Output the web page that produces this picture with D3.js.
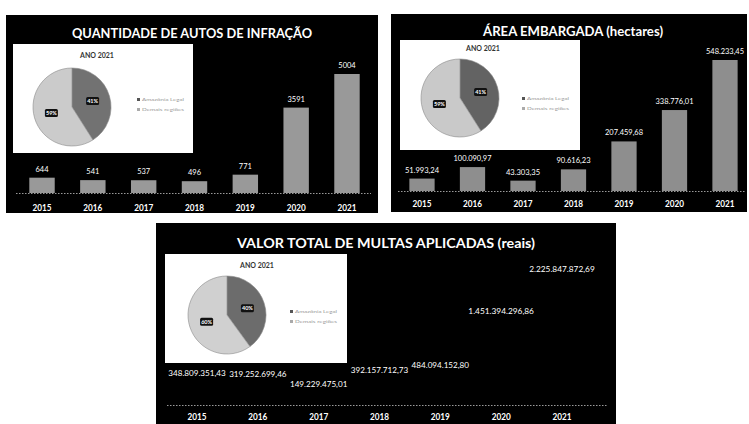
<!DOCTYPE html>
<html><head><meta charset="utf-8">
<script src="https://cdn.jsdelivr.net/npm/d3@7"></script>
<style>html,body{margin:0;padding:0;background:#fff;}svg{display:block;}</style>
</head><body>
<svg id="c" width="749" height="424"></svg>
<script>
// ---- data ----
const years = ["2015", "2016", "2017", "2018", "2019", "2020", "2021"];
const autosValues = [644, 541, 537, 496, 771, 3591, 5004];
const areaValues = [51993.24, 100090.97, 43303.35, 90616.23, 207459.68, 338776.01, 548233.45];
const multasValues = [348809351.43, 319252699.46, 149229475.01, 392157712.73, 484094152.80, 1451394296.86, 2225847872.69];
const autosPie = [41, 59];
const areaPie = [41, 59];
const multasPie = [40, 60];
const pieLegend = ["Amazônia Legal", "Demais regiões"];
const titles = ["QUANTIDADE DE AUTOS DE INFRAÇÃO", "ÁREA EMBARGADA (hectares)", "VALOR TOTAL DE MULTAS APLICADAS (reais)"];
const pieTitle = "ANO 2021";

const br = d3.formatLocale({decimal: ",", thousands: ".", grouping: [3], currency: ["R$", ""]});
const fmtInt = d3.format("d");
const fmt2 = br.format(",.2f");

const svg = d3.select("#c");
const FONT = "Lato, 'Open Sans', sans-serif";

function drawChart(cfg, values, pieVals, fmt, title) {
  const g = svg.append("g");
  g.append("rect").attr("x", cfg.panel[0]).attr("y", cfg.panel[1])
    .attr("width", cfg.panel[2]).attr("height", cfg.panel[3]).attr("fill", "#000");
  g.append("text").attr("x", cfg.titleX).attr("y", cfg.titleY)
    .attr("text-anchor", "middle").attr("fill", "#fff")
    .attr("font-family", FONT).attr("font-weight", "bold").attr("font-size", 14)
    .attr("textLength", cfg.titleLen).attr("lengthAdjust", "spacingAndGlyphs")
    .text(title);

  const x = d3.scaleBand().domain(years).range(cfg.xRange).paddingInner(0.5).paddingOuter(0.25);
  const y = d3.scaleLinear().domain([0, d3.max(values)]).range([cfg.base, cfg.base - cfg.maxH]);

  g.append("line").attr("x1", cfg.axis[0]).attr("x2", cfg.axis[1])
    .attr("y1", cfg.base + 0.5).attr("y2", cfg.base + 0.5)
    .attr("stroke", "#9a9a9a").attr("stroke-width", 1).attr("stroke-dasharray", "1.5,1.5");

  g.selectAll(".bar").data(values).join("rect")
    .attr("x", (d, i) => x(years[i])).attr("width", x.bandwidth())
    .attr("y", d => y(d)).attr("height", d => cfg.base - y(d))
    .attr("fill", cfg.barColor);

  const vt = g.selectAll(".val").data(values).join("text")
    .attr("x", (d, i) => x(years[i]) + x.bandwidth() / 2)
    .attr("y", d => y(d) - cfg.labelOff)
    .attr("text-anchor", "middle").attr("fill", "#fff")
    .attr("font-family", FONT).attr("font-size", cfg.valSize)
    .text(d => fmt(d));
  if (cfg.charW) vt.attr("textLength", d => fmt(d).length * cfg.charW).attr("lengthAdjust", "spacingAndGlyphs");

  const xa = g.append("g").attr("transform", `translate(0,${cfg.yearY})`)
    .call(d3.axisBottom(x).tickSize(0).tickPadding(0));
  xa.select(".domain").remove();
  xa.selectAll("text").attr("fill", "#fff").attr("font-family", FONT)
    .attr("font-weight", "bold").attr("font-size", 10).attr("dy", 0)
    .attr("textLength", 19).attr("lengthAdjust", "spacingAndGlyphs");

  const b = cfg.box;
  g.append("rect").attr("x", b[0]).attr("y", b[1]).attr("width", b[2]).attr("height", b[3])
    .attr("fill", "#fff");
  g.append("text").attr("x", cfg.pieTitle[0]).attr("y", cfg.pieTitle[1])
    .attr("text-anchor", "middle").attr("fill", "#333").attr("font-family", FONT)
    .attr("font-weight", "bold").attr("font-size", 7).text(pieTitle);

  const pie = d3.pie().sort(null);
  const arcs = pie(pieVals);
  const arc = d3.arc().innerRadius(0).outerRadius(cfg.r);
  const lab = d3.arc().innerRadius(cfg.r * 0.55).outerRadius(cfg.r * 0.55);
  const pg = g.append("g").attr("transform", `translate(${cfg.pc[0]},${cfg.pc[1]})`);
  const colors = cfg.pieColors;
  pg.selectAll("path").data(arcs).join("path").attr("d", arc)
    .attr("fill", (d, i) => colors[i]).attr("stroke", "#8a8a8a").attr("stroke-width", 0.6);
  const lg = pg.selectAll(".pl").data(arcs).join("g")
    .attr("transform", d => `translate(${lab.centroid(d)})`);
  lg.append("rect").attr("x", -6.5).attr("y", -4).attr("width", 13).attr("height", 8)
    .attr("rx", 1.5).attr("fill", "#111");
  lg.append("text").attr("text-anchor", "middle").attr("y", 2).attr("fill", "#fff")
    .attr("font-family", FONT).attr("font-weight", "bold").attr("font-size", 5.5)
    .text(d => d.data + "%");

  const leg = g.selectAll(".lg").data(pieLegend).join("g")
    .attr("transform", (d, i) => `translate(${cfg.leg[0]},${cfg.leg[1] + i * 10})`);
  leg.append("rect").attr("x", 0).attr("y", -3).attr("width", 3).attr("height", 3)
    .attr("fill", (d, i) => i === 0 ? "#555" : "#aaa");
  leg.append("text").attr("x", 5).attr("y", 0).attr("fill", "#999")
    .attr("font-family", FONT).attr("font-size", 4.5)
    .attr("textLength", 42).attr("lengthAdjust", "spacingAndGlyphs").text(d => d);
}

drawChart({
  panel: [6, 15, 372, 198], titleX: 192, titleY: 38, titleLen: 240,
  xRange: [16.6, 372.4], base: 193, maxH: 119, axis: [16, 371],
  barColor: "#999999", labelOff: 6, valSize: 7.5, charW: 0, yearY: 211,
  box: [13, 44, 180, 109], pieTitle: [97, 58], pc: [72, 107], r: 39,
  pieColors: ["#727272", "#cbcbcb"], leg: [137, 101]
}, autosValues, autosPie, fmtInt, titles[0]);

drawChart({
  panel: [391, 14, 356, 198], titleX: 573, titleY: 36, titleLen: 180,
  xRange: [396.75, 750.25], base: 191, maxH: 131, axis: [398, 745],
  barColor: "#8e8e8e", labelOff: 6, valSize: 7.5, charW: 3.8, yearY: 207,
  box: [400, 40, 180, 110], pieTitle: [483, 51], pc: [460, 98], r: 39,
  pieColors: ["#636363", "#c9c9c9"], leg: [522, 100]
}, areaValues, areaPie, fmt2, titles[1]);

drawChart({
  panel: [156, 223, 460, 201], titleX: 386, titleY: 248, titleLen: 298,
  xRange: [166.6, 592.4], base: 405, maxH: 123.5, axis: [167, 607],
  barColor: "#000000", labelOff: 10, valSize: 8, charW: 4.1, yearY: 420,
  box: [165, 254, 182, 109], pieTitle: [257, 268], pc: [227, 315], r: 39,
  pieColors: ["#6c6c6c", "#d0d0d0"], leg: [290, 313]
}, multasValues, multasPie, fmt2, titles[2]);
</script>
</body></html>
